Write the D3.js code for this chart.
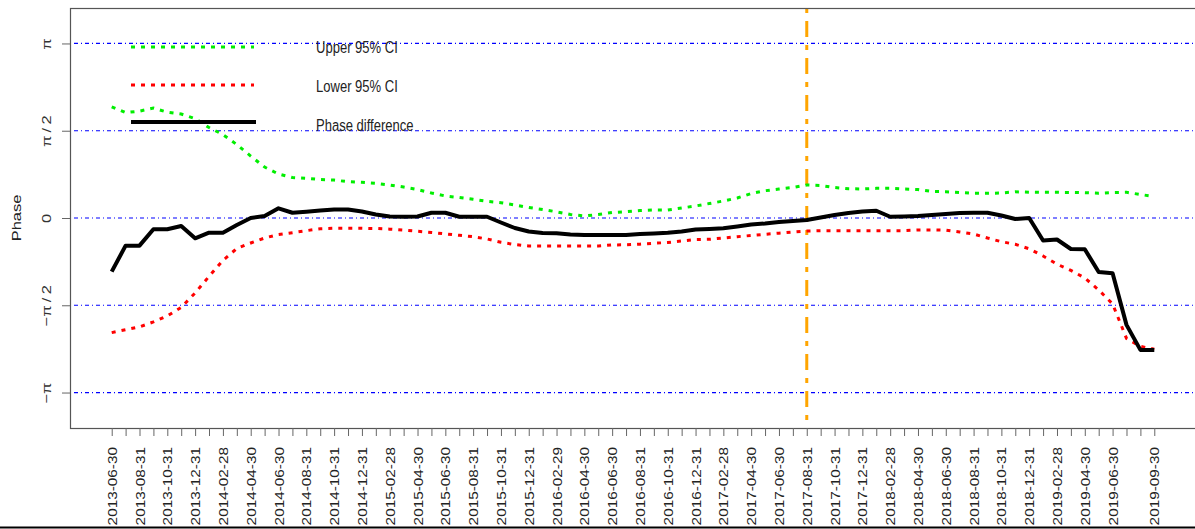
<!DOCTYPE html>
<html>
<head>
<meta charset="utf-8">
<script src="https://cdn.jsdelivr.net/npm/d3@7"></script>
<style>
  html, body { margin: 0; padding: 0; background: #fff; }
  svg { display: block; font-family: "Liberation Sans", Arial, sans-serif; }
</style>
</head>
<body>
<svg id="chart" width="1195" height="529"></svg>
<script>
// ---- data ----
const dates = [
  "2013-06-30","2013-07-31","2013-08-31","2013-09-30","2013-10-31","2013-11-30","2013-12-31",
  "2014-01-31","2014-02-28","2014-03-31","2014-04-30","2014-05-31","2014-06-30","2014-07-31",
  "2014-08-31","2014-09-30","2014-10-31","2014-11-30","2014-12-31",
  "2015-01-31","2015-02-28","2015-03-31","2015-04-30","2015-05-31","2015-06-30","2015-07-31",
  "2015-08-31","2015-09-30","2015-10-31","2015-11-30","2015-12-31",
  "2016-01-31","2016-02-29","2016-03-31","2016-04-30","2016-05-31","2016-06-30","2016-07-31",
  "2016-08-31","2016-09-30","2016-10-31","2016-11-30","2016-12-31",
  "2017-01-31","2017-02-28","2017-03-31","2017-04-30","2017-05-31","2017-06-30","2017-07-31",
  "2017-08-31","2017-09-30","2017-10-31","2017-11-30","2017-12-31",
  "2018-01-31","2018-02-28","2018-03-31","2018-04-30","2018-05-31","2018-06-30","2018-07-31",
  "2018-08-31","2018-09-30","2018-10-31","2018-11-30","2018-12-31",
  "2019-01-31","2019-02-28","2019-03-31","2019-04-30","2019-05-31","2019-06-30","2019-07-31",
  "2019-08-31","2019-09-30"
];

const tickLabels = [
  "2013-06-30","2013-08-31","2013-10-31","2013-12-31","2014-02-28","2014-04-30","2014-06-30",
  "2014-08-31","2014-10-31","2014-12-31","2015-02-28","2015-04-30","2015-06-30","2015-08-31",
  "2015-10-31","2015-12-31","2016-02-29","2016-04-30","2016-06-30","2016-08-31","2016-10-31",
  "2016-12-31","2017-02-28","2017-04-30","2017-06-30","2017-08-31","2017-10-31","2017-12-31",
  "2018-02-28","2018-04-30","2018-06-30","2018-08-31","2018-10-31","2018-12-31","2019-02-28",
  "2019-04-30","2019-06-30","2019-09-30"
];

const phaseDiff = [
  -0.966,-0.498,-0.498,-0.203,-0.203,-0.144,-0.365,-0.264,-0.264,-0.126,
   0.000, 0.036, 0.174, 0.095, 0.113, 0.135, 0.153, 0.153, 0.117, 0.063,
   0.027, 0.023, 0.027, 0.095, 0.095, 0.023, 0.023, 0.023,-0.081,-0.180,
  -0.243,-0.270,-0.275,-0.297,-0.306,-0.306,-0.306,-0.306,-0.288,-0.279,
  -0.266,-0.243,-0.207,-0.198,-0.185,-0.153,-0.117,-0.099,-0.072,-0.054,
  -0.036, 0.009, 0.054, 0.090, 0.117, 0.131, 0.023, 0.027, 0.036, 0.054,
   0.072, 0.090, 0.095, 0.095, 0.045,-0.018, 0.000,-0.405,-0.387,-0.558,
  -0.563,-0.971,-0.995,-1.924,-2.374,-2.374
];

const upperCI = [
   2.002, 1.897, 1.924, 1.978, 1.906, 1.871, 1.790, 1.628, 1.502, 1.322,
   1.115, 0.917, 0.791, 0.728, 0.714, 0.692, 0.683, 0.653, 0.642, 0.624,
   0.594, 0.558, 0.513, 0.450, 0.396, 0.369, 0.336, 0.300, 0.275, 0.234,
   0.189, 0.153, 0.112, 0.063, 0.036, 0.063, 0.099, 0.113, 0.133, 0.144,
   0.144, 0.180, 0.216, 0.261, 0.306, 0.360, 0.441, 0.491, 0.522, 0.549,
   0.594, 0.585, 0.549, 0.527, 0.522, 0.534, 0.534, 0.522, 0.513, 0.477,
   0.473, 0.459, 0.444, 0.444, 0.450, 0.471, 0.464, 0.462, 0.462, 0.460,
   0.455, 0.446, 0.459, 0.462, 0.423, 0.387
];

const lowerCI = [
  -2.063,-2.011,-1.960,-1.871,-1.763,-1.610,-1.349,-1.052,-0.764,-0.549,
  -0.450,-0.360,-0.297,-0.264,-0.228,-0.194,-0.185,-0.185,-0.185,-0.189,
  -0.201,-0.219,-0.239,-0.261,-0.286,-0.311,-0.336,-0.378,-0.437,-0.477,
  -0.504,-0.504,-0.504,-0.504,-0.504,-0.504,-0.486,-0.482,-0.471,-0.455,
  -0.441,-0.414,-0.388,-0.383,-0.360,-0.336,-0.315,-0.293,-0.273,-0.252,
  -0.234,-0.228,-0.228,-0.228,-0.228,-0.228,-0.228,-0.228,-0.216,-0.216,
  -0.219,-0.252,-0.288,-0.360,-0.426,-0.473,-0.554,-0.683,-0.831,-0.944,
  -1.079,-1.295,-1.547,-2.167,-2.311,-2.362
];

const yTickValues = [-Math.PI, -Math.PI / 2, 0, Math.PI / 2, Math.PI];
const yTickLabels = ["\u2212\u03c0", "\u2212\u03c0\u2009/\u20092", "0", "\u03c0\u2009/\u20092", "\u03c0"];
const markerDate = "2017-08-31";
const legendItems = ["Upper 95% CI", "Lower 95% CI", "Phase difference"];

// ---- layout ----
const svg = d3.select("#chart");
const mLeft = 70, mRight = 1196, mTop = 8, mBottom = 428;
const squeeze = 0.79;   // horizontal text compression seen in the reference
const fontSize = 16.5;

const x = d3.scaleLinear().domain([-3, dates.length + 2]).range([mLeft, mRight]);
const y = d3.scaleLinear().domain([-3.78, 3.78]).range([mBottom, mTop]);

// horizontal reference lines
svg.append("g").selectAll("line").data(yTickValues).join("line")
  .attr("x1", mLeft).attr("x2", 1195)
  .attr("y1", d => y(d)).attr("y2", d => y(d))
  .attr("stroke", "#0000ff").attr("stroke-width", 1.2)
  .attr("stroke-dasharray", "1,3,4,3");

// vertical marker line
const mi = dates.indexOf(markerDate);
svg.append("line")
  .attr("x1", x(mi)).attr("x2", x(mi))
  .attr("y1", mTop).attr("y2", mBottom)
  .attr("stroke", "#ffa500").attr("stroke-width", 3)
  .attr("stroke-dasharray", "5,8,16,8");

// series
const lineGen = d3.line().x((d, i) => x(i)).y(d => y(d));
svg.append("path").datum(upperCI)
  .attr("d", lineGen).attr("fill", "none")
  .attr("stroke", "#00ee00").attr("stroke-width", 3).attr("stroke-dasharray", "4,6");
svg.append("path").datum(lowerCI)
  .attr("d", lineGen).attr("fill", "none")
  .attr("stroke", "#ff0000").attr("stroke-width", 3).attr("stroke-dasharray", "4,6");
svg.append("path").datum(phaseDiff)
  .attr("d", lineGen).attr("fill", "none")
  .attr("stroke", "#000").attr("stroke-width", 4).attr("stroke-linejoin", "round");

// box
svg.append("rect")
  .attr("x", mLeft + 0.5).attr("y", mTop + 0.5)
  .attr("width", 1200 - mLeft).attr("height", mBottom - mTop)
  .attr("fill", "none").attr("stroke", "#555").attr("stroke-width", 1.2);

// y axis
const yAxis = d3.axisLeft(y).tickValues(yTickValues).tickSize(8)
  .tickFormat((d, i) => yTickLabels[i]);
const gy = svg.append("g").attr("transform", `translate(${mLeft},0)`).call(yAxis);
gy.select(".domain").remove();
gy.selectAll(".tick line").attr("stroke", "#666");
gy.selectAll(".tick text")
  .attr("x", null).attr("dy", null)
  .attr("text-anchor", "middle").attr("dominant-baseline", "central")
  .attr("transform", `translate(-23,0) scale(${squeeze},1) rotate(-90)`)
  .attr("font-size", fontSize).attr("fill", "#333")
  .attr("font-family", "Liberation Sans, Arial, sans-serif");

// y title
svg.append("text")
  .attr("transform", `translate(17,${(mTop + mBottom) / 2}) scale(${squeeze},1) rotate(-90)`)
  .attr("text-anchor", "middle").attr("dominant-baseline", "central")
  .attr("font-size", fontSize).attr("fill", "#222")
  .text("Phase");

// x axis
const xAxis = d3.axisBottom(x).tickValues(d3.range(dates.length)).tickSize(8)
  .tickFormat(i => tickLabels.includes(dates[i]) ? dates[i] : "");
const gx = svg.append("g").attr("transform", `translate(0,${mBottom})`).call(xAxis);
gx.select(".domain").remove();
gx.selectAll(".tick line").attr("stroke", "#666");
gx.selectAll(".tick text")
  .attr("y", null).attr("dy", null)
  .attr("text-anchor", "end").attr("dominant-baseline", "central")
  .attr("transform", `translate(0,19) scale(${squeeze},0.93) rotate(-90)`)
  .attr("font-size", fontSize).attr("fill", "#222")
  .attr("font-family", "Liberation Sans, Arial, sans-serif");

// legend
const legendY = [47, 85, 122];
const legendTextY = [47, 86, 125];
const legendStyles = [
  { stroke: "#00ee00", w: 3, dash: "4,6" },
  { stroke: "#ff0000", w: 3, dash: "4,6" },
  { stroke: "#000", w: 4, dash: null }
];
const lg = svg.append("g");
legendItems.forEach((name, i) => {
  const s = legendStyles[i];
  lg.append("line")
    .attr("x1", 131).attr("x2", i === 2 ? 256 : 254)
    .attr("y1", legendY[i]).attr("y2", legendY[i])
    .attr("stroke", s.stroke).attr("stroke-width", s.w)
    .attr("stroke-dasharray", s.dash);
  lg.append("text")
    .attr("transform", `translate(316,${legendTextY[i]}) scale(${squeeze},1)`)
    .attr("dominant-baseline", "central")
    .attr("font-size", fontSize).attr("fill", "#222")
    .text(name);
});

// bottom frame line of the picture
svg.append("line")
  .attr("x1", 0).attr("x2", 1195).attr("y1", 527.5).attr("y2", 527.5)
  .attr("stroke", "#000").attr("stroke-width", 2);
</script>
</body>
</html>
